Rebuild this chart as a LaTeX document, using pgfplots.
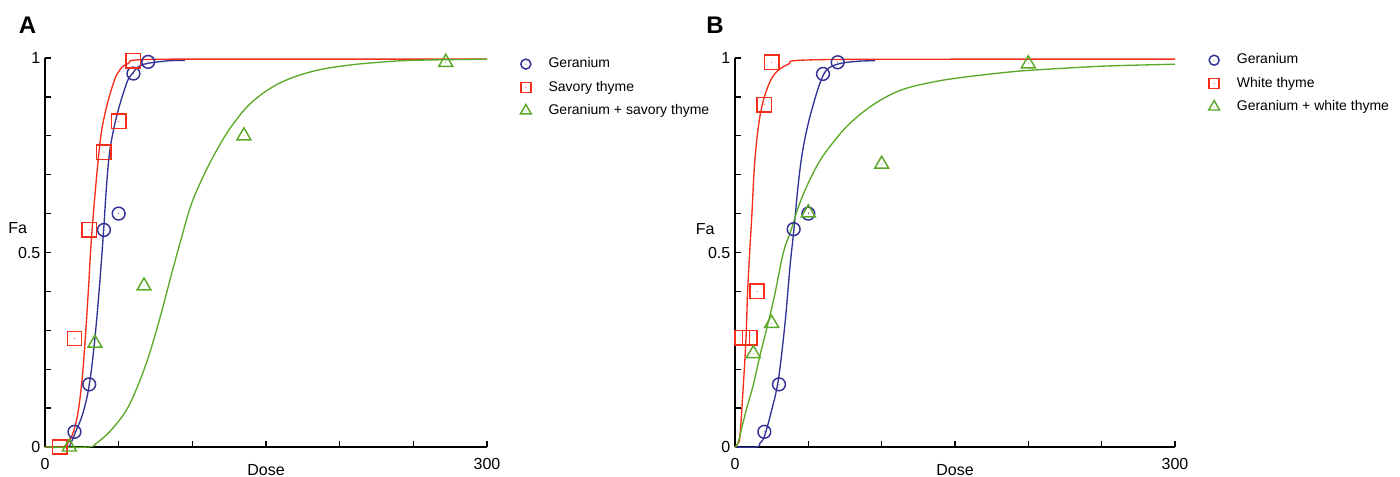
\documentclass[border=0pt]{standalone}
\usepackage{pgfplots}
\pgfplotsset{compat=1.18}
\usepackage{fontspec}
\setmainfont{Liberation Sans}

\definecolor{geran}{RGB}{50,50,150}
\definecolor{thyme}{RGB}{245,45,25}
\definecolor{combo}{RGB}{90,170,40}

% open marks with a small dot in the middle
\pgfdeclareplotmark{dcircle}{%
  \pgfpathcircle{\pgfpointorigin}{\pgfplotmarksize}\pgfusepathqstroke
  \pgfpathcircle{\pgfpointorigin}{0.4pt}\pgfusepathqfill}
\pgfdeclareplotmark{dsquare}{%
  \pgfpathrectangle{\pgfpoint{-\pgfplotmarksize}{-\pgfplotmarksize}}{\pgfpoint{2\pgfplotmarksize}{2\pgfplotmarksize}}\pgfusepathqstroke
  \pgfpathcircle{\pgfpointorigin}{0.4pt}\pgfusepathqfill}
\pgfdeclareplotmark{dtriangle}{%
  \pgfpathmoveto{\pgfpointpolar{90}{\pgfplotmarksize}}%
  \pgfpathlineto{\pgfpointpolar{-30}{\pgfplotmarksize}}%
  \pgfpathlineto{\pgfpointpolar{210}{\pgfplotmarksize}}%
  \pgfpathclose\pgfusepathqstroke
  \pgfpathcircle{\pgfpointorigin}{0.4pt}\pgfusepathqfill}

\pgfplotsset{
  faplot/.style={
    scale only axis, height=291.75pt,
    xmin=0, xmax=300, ymin=0, ymax=1,
    axis x line=bottom, axis y line=left,
    axis line style={-, line width=1.4pt, black},
    xtick={0,50,100,150,200,250,300}, xticklabels={0,,,,,,300},
    ytick={0,0.1,0.2,0.3,0.4,0.5,0.6,0.7,0.8,0.9,1},
    yticklabels={0,,,,,0.5,,,,,1},
    tick align=inside, major tick length=4.5pt,
    tick style={black, line width=1pt},
    tick label style={font=\fontsize{12}{14}\selectfont},
    /pgf/number format/assume math mode=true,
    xticklabel style={yshift=-5pt},
    clip=false,
    legend style={draw=none, fill=none, inner sep=0pt, anchor=north west,
      font=\fontsize{10.5}{12}\selectfont, row sep=7pt,
      nodes={inner sep=0pt, text height=8pt, text depth=2.5pt},
      /tikz/every odd column/.append style={column sep=13pt}},
    legend cell align=left,
    legend image code/.code={\draw[#1] plot coordinates {(0pt,0pt)};},
  },
  fit/.style={line width=1pt, smooth, tension=0.6, forget plot},
  pts/.style={only marks, mark options={draw=#1, fill=#1, line width=1.1pt}},
}

\begin{document}
\begin{tikzpicture}
\useasboundingbox (0,0) rectangle (1050pt,357.75pt);

% ---------------- panel A
\begin{axis}[faplot, width=331.5pt, at={(33.75pt,22.5pt)}, anchor=south west,
  legend style={at={(1.075,1.003)}}]
\addplot[fit, geran] coordinates {
(0,0)(14.7,0)(17.5,0.01)(20.8,0.039)(26,0.09)(30.1,0.161)(33.5,0.266)(36.7,0.40)
(39.8,0.558)(41.9,0.678)(44.1,0.764)(48.6,0.85)(55.4,0.935)(59.3,0.96)(65.6,0.982)
(81.4,0.992)(95,0.994)};
\addplot[fit, thyme] coordinates {
(0,0)(10,0)(14,0.004)(18.1,0.027)(21.9,0.078)(24.9,0.164)(27.1,0.266)(29.4,0.40)
(31.9,0.555)(36.7,0.76)(40.3,0.85)(46.4,0.935)(50.9,0.97)(56.6,0.986)(68,0.996)
(150,0.997)(300,0.997)};
\addplot[fit, combo] coordinates {
(0,0)(29,0)(35,0.01)(45,0.044)(56.6,0.104)(68,0.207)(77,0.318)(86,0.446)(92.8,0.54)
(99.5,0.626)(108.6,0.705)(117.6,0.77)(126.7,0.825)(140,0.885)(159,0.935)(182,0.966)
(205,0.981)(227,0.989)(250,0.994)(300,0.997)};

\addplot[pts=geran, color=geran, mark=dcircle, mark size=4.8pt,
  legend image post style={mark size=3.75pt}] coordinates {
(20,0.039)(30,0.161)(40,0.558)(50,0.60)(60,0.96)(70,0.99)};
\addlegendentry{Geranium}
\addplot[pts=thyme, color=thyme, mark=dsquare, mark size=5.4pt,
  legend image post style={mark size=3.75pt}] coordinates {
(10,0)(20,0.279)(30,0.558)(40,0.758)(50,0.837)(60,0.993)};
\addlegendentry{Savory thyme}
\addplot[pts=combo, color=combo, mark=dtriangle, mark size=6pt,
  legend image post style={mark size=4.7pt}] coordinates {
(16.5,0)(33.9,0.267)(67.2,0.414)(135,0.80)(272,0.989)};
\addlegendentry{Geranium + savory thyme}

\node[font=\fontsize{12}{14}\selectfont] at (rel axis cs:-0.062,0.564) {Fa};
\node[font=\fontsize{12}{14}\selectfont] at (rel axis cs:0.5,-0.059) {Dose};
\end{axis}

% ---------------- panel B
\begin{axis}[faplot, width=330pt, at={(551.25pt,22.5pt)}, anchor=south west,
  legend style={at={(1.076,1.013)}}]
\addplot[fit, geran] coordinates {
(0,0)(14.8,0)(17,0.01)(20,0.027)(25,0.095)(29.5,0.172)(34.1,0.318)(37.5,0.464)
(40.2,0.56)(43.2,0.678)(46.6,0.772)(52.3,0.866)(60.2,0.956)(68.2,0.982)(81.8,0.991)
(95.5,0.993)};
\addplot[fit, thyme] coordinates {
(0,0)(2,0.01)(3.4,0.03)(5.7,0.16)(7.5,0.28)(8.6,0.40)(10,0.5)(11.4,0.59)(13.6,0.74)
(17,0.85)(21.6,0.918)(27.3,0.96)(36.4,0.984)(50,0.995)(150,0.997)(300,0.997)};
\addplot[fit, combo] coordinates {
(0,0)(2,0.01)(5,0.055)(8,0.10)(12.5,0.16)(17,0.235)(22,0.31)(27,0.39)(33,0.50)
(38,0.555)(45.5,0.64)(56.8,0.729)(68.2,0.789)(79.5,0.836)(95.5,0.883)(113.6,0.918)
(136,0.939)(159,0.952)(190,0.965)(212.5,0.971)(235,0.976)(258,0.98)(300,0.984)};

\addplot[pts=geran, color=geran, mark=dcircle, mark size=4.8pt,
  legend image post style={mark size=3.75pt}] coordinates {
(20,0.039)(30,0.161)(40,0.56)(50,0.60)(60,0.959)(70,0.989)};
\addlegendentry{Geranium}
\addplot[pts=thyme, color=thyme, mark=dsquare, mark size=5.4pt,
  legend image post style={mark size=3.75pt}] coordinates {
(5,0.281)(10,0.281)(15,0.40)(20,0.88)(25,0.989)};
\addlegendentry{White thyme}
\addplot[pts=combo, color=combo, mark=dtriangle, mark size=6pt,
  legend image post style={mark size=4.7pt}] coordinates {
(12.5,0.24)(25,0.318)(50,0.602)(100,0.727)(200,0.985)};
\addlegendentry{Geranium + white thyme}

\node[font=\fontsize{12}{14}\selectfont] at (rel axis cs:-0.068,0.561) {Fa};
\node[font=\fontsize{12}{14}\selectfont] at (rel axis cs:0.5,-0.059) {Dose};
\end{axis}

\node[font=\bfseries\fontsize{18}{20}\selectfont] at (20.6pt,339pt) {A};
\node[font=\bfseries\fontsize{18}{20}\selectfont] at (536.25pt,339pt) {B};
\end{tikzpicture}
\end{document}
